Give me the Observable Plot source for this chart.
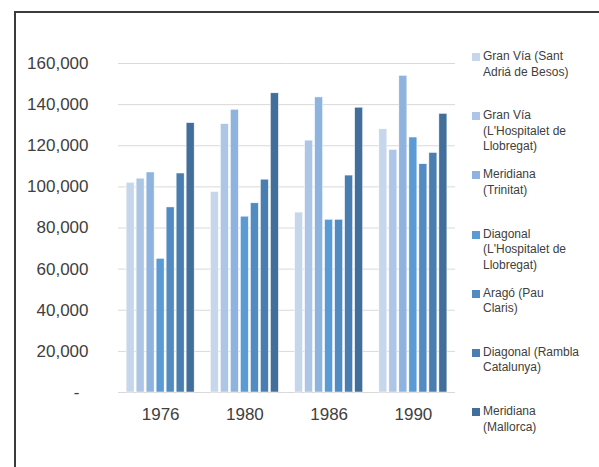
<!DOCTYPE html>
<html><head><meta charset="utf-8">
<script src="https://cdn.jsdelivr.net/npm/d3@7"></script>
<script src="https://cdn.jsdelivr.net/npm/@observablehq/plot@0.6"></script>
<style>
body{margin:0;background:#fff;font-family:"Liberation Sans",Arial,sans-serif;}
#wrap{position:relative;width:599px;height:467px;overflow:hidden;background:#fff;}
#frame{position:absolute;left:14px;top:11px;width:620px;height:520px;border-left:2px solid #3b3b3b;border-top:2px solid #3b3b3b;box-sizing:border-box;}
#chart{position:absolute;left:0;top:0;}
#legend{position:absolute;left:472px;top:49px;}
.item{height:59.2px;display:flex;align-items:flex-start;font-size:12px;line-height:15.5px;color:#404040;white-space:nowrap;}
.sw{width:8px;height:8px;margin-top:4px;margin-right:3px;flex:none;}
</style></head>
<body>
<div id="wrap"><div id="frame"></div><div id="chart"></div><div id="legend"></div></div>
<script>
const years = ["1976", "1980", "1986", "1990"];
const series = [
  "Gran Vía (Sant Adriá de Besos)",
  "Gran Vía (L'Hospitalet de Llobregat)",
  "Meridiana (Trinitat)",
  "Diagonal (L'Hospitalet de Llobregat)",
  "Aragó (Pau Claris)",
  "Diagonal (Rambla Catalunya)",
  "Meridiana (Mallorca)"
];
const legendLines = [
  ["Gran Vía (Sant", "Adriá de Besos)"],
  ["Gran Vía", "(L'Hospitalet de", "Llobregat)"],
  ["Meridiana", "(Trinitat)"],
  ["Diagonal", "(L'Hospitalet de", "Llobregat)"],
  ["Aragó (Pau", "Claris)"],
  ["Diagonal (Rambla", "Catalunya)"],
  ["Meridiana", "(Mallorca)"]
];
const colors = ["#c6d7eb", "#adc6e6", "#8eb3de", "#5b9bd5", "#528bc2", "#4a7db0", "#416e9b"];
const values1976 = [102000, 104000, 107000, 65000, 90000, 106500, 131000];
const values1980 = [97500, 130500, 137500, 85500, 92000, 103500, 145500];
const values1986 = [87500, 122500, 143500, 84000, 84000, 105500, 138500];
const values1990 = [128000, 118000, 154000, 124000, 111000, 116500, 135500];
const yTicks = [0, 20000, 40000, 60000, 80000, 100000, 120000, 140000, 160000];

const byYear = [values1976, values1980, values1986, values1990];
const data = years.flatMap((yr, i) => series.map((s, j) => ({year: yr, series: s, value: byYear[i][j]})));

const chart = Plot.plot({
  width: 460, height: 467,
  marginLeft: 118, marginRight: 5, marginTop: 63, marginBottom: 75,
  style: {fontFamily: "'Liberation Sans', Arial, sans-serif", color: "#404040", background: "transparent"},
  fx: {domain: years, padding: 0, round: false, label: null, axis: null},
  x: {domain: series, paddingInner: 0.2, paddingOuter: 0.81, round: false, axis: null},
  y: {domain: [0, 160000], axis: null},
  color: {domain: series, range: colors},
  marks: [
    Plot.gridY(yTicks, {stroke: "#d9d9d9", strokeOpacity: 1}),
    Plot.barY(data, {fx: "year", x: "series", y: "value", fill: "series", stroke: "#ffffff", strokeWidth: 0.5}),
    Plot.axisY(yTicks.filter(d => d !== 0), {tickSize: 0, tickPadding: 30, tickFormat: d3.format(","), fontSize: 17, label: null}),
    Plot.axisY([0], {tickSize: 0, tickPadding: 39, tickFormat: () => "-", fontSize: 17, label: null}),
    Plot.axisFx({anchor: "bottom", tickSize: 0, tickPadding: 15, fontSize: 17, label: null})
  ]
});
document.getElementById("chart").appendChild(chart);

const legend = document.getElementById("legend");
series.forEach((s, i) => {
  const item = document.createElement("div");
  item.className = "item";
  const sw = document.createElement("div");
  sw.className = "sw";
  sw.style.background = colors[i];
  const txt = document.createElement("div");
  txt.innerHTML = legendLines[i].map(l => l.replace(/&/g, "&amp;").replace(/</g, "&lt;")).join("<br>");
  item.appendChild(sw);
  item.appendChild(txt);
  legend.appendChild(item);
});
</script>
</body></html>
